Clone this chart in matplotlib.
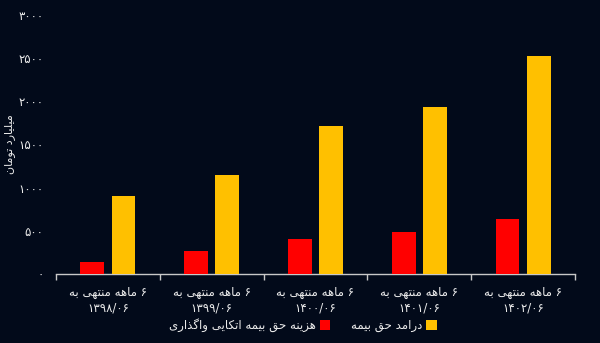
import numpy as np
import matplotlib
matplotlib.use("Agg")
import matplotlib.pyplot as plt
from matplotlib.ticker import FuncFormatter, FixedLocator
from matplotlib.patches import Patch

# ---- data ----
period_prefix = "۶ ماهه منتهی به"
periods = ["۱۳۹۸/۰۶", "۱۳۹۹/۰۶", "۱۴۰۰/۰۶", "۱۴۰۱/۰۶", "۱۴۰۲/۰۶"]
reinsurance_cost = [139, 270, 409, 487, 637]
premium_income = [903, 1143, 1718, 1938, 2529]
series_names = ["هزینه حق بیمه اتکایی واگذاری", "درامد حق بیمه"]
y_label = "میلیارد تومان"
y_ticks = [0, 500, 1000, 1500, 2000, 2500, 3000]

# ---- minimal Persian shaping (presentation forms) ----
FORMS = {  # iso, fin, ini, med
    'ا': ('\uFE8D', '\uFE8E', None, None),
    'ب': ('\uFE8F', '\uFE90', '\uFE91', '\uFE92'),
    'ت': ('\uFE95', '\uFE96', '\uFE97', '\uFE98'),
    'ح': ('\uFEA1', '\uFEA2', '\uFEA3', '\uFEA4'),
    'د': ('\uFEA9', '\uFEAA', None, None),
    'ذ': ('\uFEAB', '\uFEAC', None, None),
    'ر': ('\uFEAD', '\uFEAE', None, None),
    'ز': ('\uFEAF', '\uFEB0', None, None),
    'ق': ('\uFED5', '\uFED6', '\uFED7', '\uFED8'),
    'ل': ('\uFEDD', '\uFEDE', '\uFEDF', '\uFEE0'),
    'م': ('\uFEE1', '\uFEE2', '\uFEE3', '\uFEE4'),
    'ن': ('\uFEE5', '\uFEE6', '\uFEE7', '\uFEE8'),
    'ه': ('\uFEE9', '\uFEEA', '\uFEEB', '\uFEEC'),
    'و': ('\uFEED', '\uFEEE', None, None),
    'ی': ('\uFBFC', '\uFBFD', '\uFBFE', '\uFBFF'),
    'ک': ('\uFB8E', '\uFB8F', '\uFB90', '\uFB91'),
    'گ': ('\uFB92', '\uFB93', '\uFB94', '\uFB95'),
}


def dual(c):
    return c in FORMS and FORMS[c][2] is not None


def shape(text):
    out = []
    n = len(text)
    for i, c in enumerate(text):
        if c not in FORMS:
            out.append(c)
            continue
        prev = text[i - 1] if i > 0 else ''
        nxt = text[i + 1] if i < n - 1 else ''
        jp = dual(prev)
        jn = dual(c) and nxt in FORMS
        iso, fin, ini, med = FORMS[c]
        if jp and jn:
            out.append(med)
        elif jp:
            out.append(fin)
        elif jn:
            out.append(ini)
        else:
            out.append(iso)
    return ''.join(reversed(out))


FA_DIGITS = str.maketrans("0123456789", "۰۱۲۳۴۵۶۷۸۹")

BG = "#020a1a"
TXT = "#ebebeb"
RED = "#ff0000"
YEL = "#ffc000"

plt.rcParams['font.family'] = ['DejaVu Sans']

fig = plt.figure(figsize=(6, 3.43), dpi=100, facecolor=BG)
ax = fig.add_axes([0.0933, 0.2012, 0.865, 0.7551], facecolor=BG)

x = np.arange(len(periods))
w = 0.23
off = 0.15
ax.bar(x - off, reinsurance_cost, width=w, color=RED, zorder=3)
ax.bar(x + off, premium_income, width=w, color=YEL, zorder=3)

ax.set_xlim(-0.5, len(periods) - 0.5)
ax.set_ylim(0, 3000)

for s in ['top', 'right', 'left']:
    ax.spines[s].set_visible(False)
ax.spines['bottom'].set_color("#c8c8c8")
ax.spines['bottom'].set_linewidth(1.0)

ax.yaxis.set_major_locator(FixedLocator(y_ticks))
ax.yaxis.set_major_formatter(FuncFormatter(lambda v, p: str(int(v)).translate(FA_DIGITS)))
ax.tick_params(axis='y', length=0, pad=9, labelsize=8.5, labelcolor=TXT)

ax.set_xticks(x)
ax.set_xticklabels([shape(period_prefix) + "\n" + p for p in periods])
ax.tick_params(axis='x', which='major', length=0, pad=9, labelsize=8.5, labelcolor=TXT)
ax.set_xticks(np.arange(-0.5, len(periods) - 0.4, 1.0), minor=True)
ax.tick_params(axis='x', which='minor', length=4, color="#c8c8c8", width=1)
for t in ax.get_xticklabels():
    t.set_linespacing(1.2)

ax.set_ylabel(shape(y_label), color=TXT, fontsize=8)
ax.yaxis.set_label_coords(-0.079, 0.5)

handles = [Patch(facecolor=RED), Patch(facecolor=YEL)]
fig.legend(handles, [shape(s) for s in series_names], ncol=2, markerfirst=False,
           loc='center', bbox_to_anchor=(0.505, 0.052), frameon=False,
           fontsize=8.5, labelcolor=TXT, handlelength=0.9, handleheight=0.9,
           handletextpad=0.3, columnspacing=1.8)

fig.savefig("out.png", dpi=100, facecolor=BG)
